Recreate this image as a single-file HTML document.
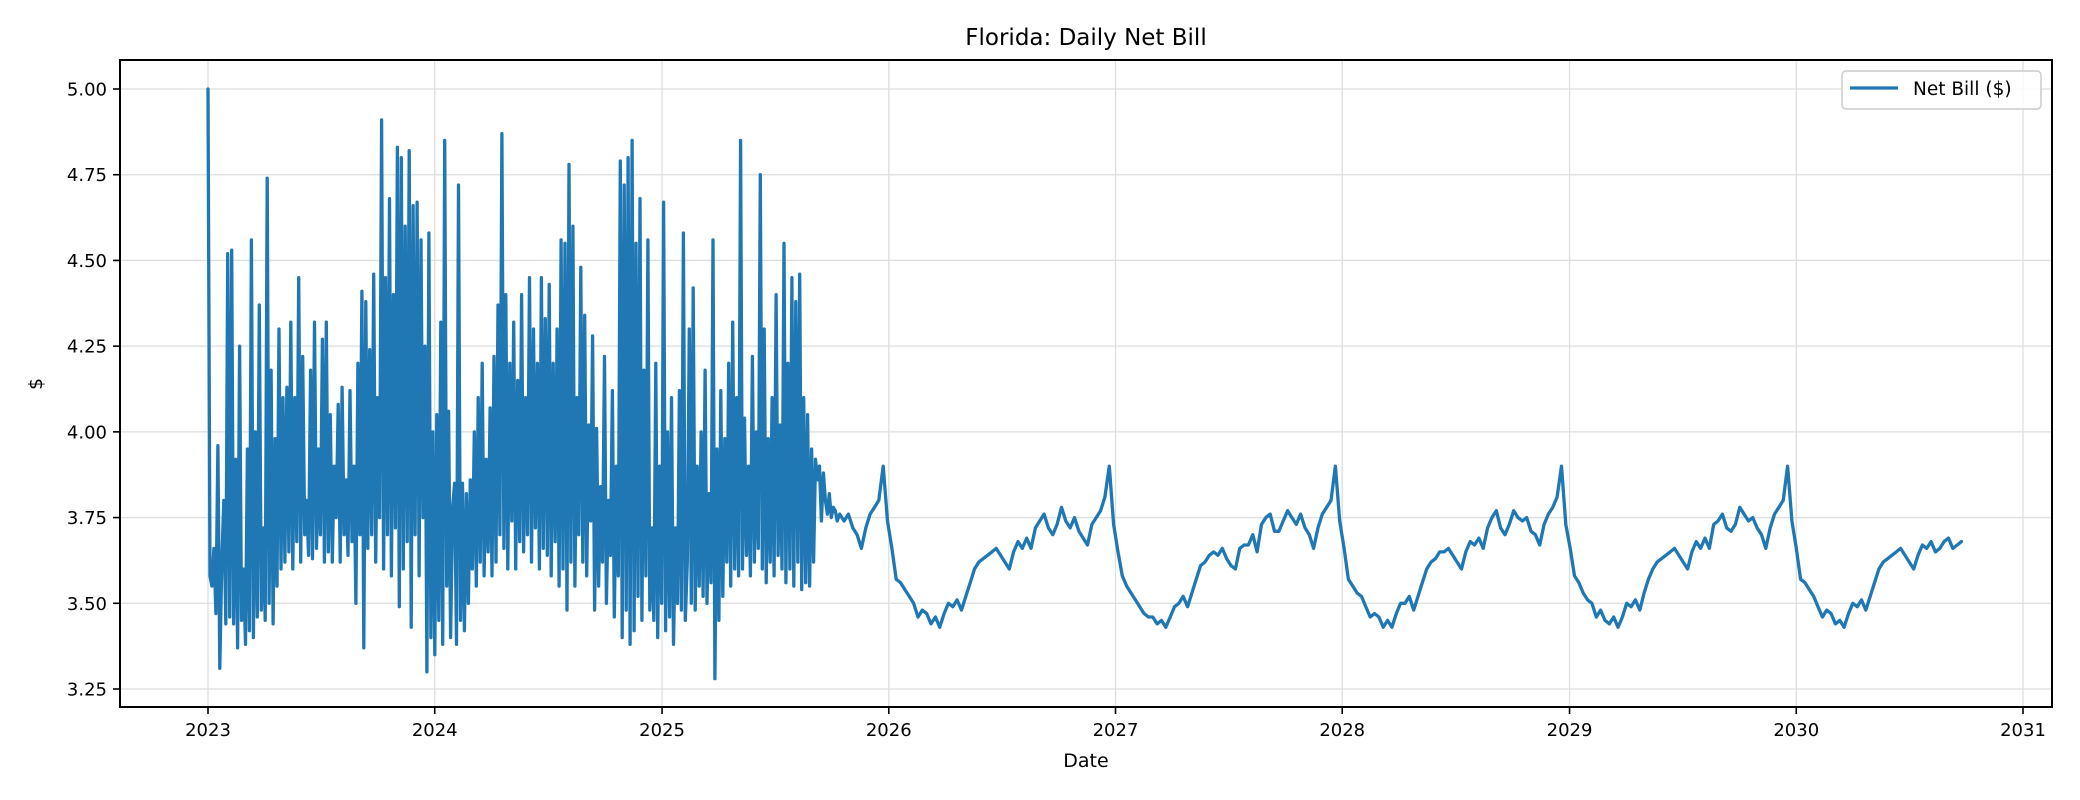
<!DOCTYPE html>
<html><head><meta charset="utf-8"><style>
html,body{margin:0;padding:0;background:#fff;}
svg{display:block;font-family:"DejaVu Sans","Liberation Sans",sans-serif;}
</style></head><body>
<svg id="chart" width="2080" height="800" viewBox="0 0 2080 800" xmlns="http://www.w3.org/2000/svg">
<rect x="0" y="0" width="2080" height="800" fill="#fff"/>
<g id="grid"></g>
<g id="series"></g>
<rect x="120" y="60" width="1932" height="647" fill="none" stroke="#000" stroke-width="2"/>
<g id="ticks"></g>
<text x="1086" y="45" text-anchor="middle" font-size="23" fill="#000">Florida: Daily Net Bill</text>
<text x="1086" y="767" text-anchor="middle" font-size="19" fill="#000">Date</text>
<text x="42" y="384" text-anchor="middle" font-size="19" fill="#000" transform="rotate(-90 42 384)">$</text>
<g>
<rect x="1842" y="71" width="199" height="38" rx="4" fill="#fff" fill-opacity="0.8" stroke="#ccc" stroke-width="1.5"/>
<line x1="1850" y1="88" x2="1898" y2="88" stroke="#1f77b4" stroke-width="3.3"/>
<text x="1913" y="95" font-size="18.5" fill="#000">Net Bill ($)</text>
</g>
</svg>
<script>
const yTicks = [3.25, 3.50, 3.75, 4.00, 4.25, 4.50, 4.75, 5.00];
const xTickYears = [2023, 2024, 2025, 2026, 2027, 2028, 2029, 2030, 2031];
const noisyStart = "2023-01-01";
const noisyEnd = "2025-10-10";
const noisyValues = [
5.00,3.58,3.55,3.66,3.47,3.96,3.31,3.62,3.80,3.44,4.52,3.46,4.53,3.44,3.92,3.37,4.25,3.45,3.60,3.38,
3.95,3.42,4.56,3.40,4.00,3.46,4.37,3.48,3.72,3.45,4.74,3.50,4.18,3.44,3.98,3.55,4.30,3.60,4.10,3.62,
4.13,3.65,4.32,3.60,4.10,3.68,4.45,3.62,4.22,3.70,3.80,3.64,4.18,3.63,4.32,3.66,3.95,3.70,4.27,3.62,
4.32,3.65,4.05,3.62,3.90,3.75,4.08,3.62,4.13,3.70,3.86,3.64,4.12,3.68,3.90,3.50,4.20,3.70,4.41,3.37,
4.38,3.66,4.24,3.70,4.46,3.62,4.10,3.75,4.91,3.60,4.45,3.70,4.68,3.58,4.40,3.72,4.83,3.49,4.80,3.60,
4.60,3.68,4.82,3.43,4.66,3.70,4.67,3.58,4.56,3.75,4.25,3.30,4.58,3.40,4.00,3.35,4.05,3.45,4.32,3.38,4.85,
3.55,4.06,3.40,3.78,3.85,3.38,4.72,3.45,3.85,3.42,3.82,3.50,3.86,3.60,4.00,3.55,4.10,3.62,4.20,3.58,
3.92,3.65,4.07,3.58,4.22,3.62,4.37,3.70,4.87,3.66,4.40,3.60,4.20,3.74,4.32,3.60,4.15,3.68,4.40,3.65,
4.10,3.70,4.45,3.62,4.30,3.72,4.20,3.60,4.45,3.66,4.33,3.64,4.43,3.58,4.20,3.68,4.30,3.55,4.56,3.60,
4.55,3.48,4.78,3.62,4.60,3.55,4.10,3.70,4.48,3.62,4.34,3.58,4.02,3.74,4.28,3.48,4.01,3.55,3.84,3.62,
4.22,3.50,3.80,3.64,4.12,3.46,3.90,3.58,4.79,3.40,4.72,3.48,4.80,3.38,4.85,3.42,4.55,3.52,4.68,3.45,
4.18,3.58,4.56,3.48,3.72,3.45,4.20,3.40,3.90,3.50,4.67,3.42,4.00,3.46,4.10,3.38,3.72,3.50,4.12,3.48,4.58,3.45,
3.62,4.30,3.50,4.42,3.48,3.90,3.55,4.00,3.52,4.18,3.50,3.82,3.56,4.56,3.28,3.95,3.45,4.12,3.52,3.98,
3.62,4.20,3.55,4.32,3.60,4.10,3.58,4.85,3.60,4.04,3.64,3.90,3.58,4.22,3.62,4.00,3.66,4.75,3.60,4.30,
3.56,3.98,3.62,4.10,3.58,4.40,3.64,4.02,3.60,4.55,3.56,4.20,3.60,4.45,3.55,4.38,3.62,4.46,3.54,4.10,
3.56,4.05,3.55,3.95,3.62,3.92,3.86,3.90,3.74,3.88,3.80,3.76,3.82,3.75,3.78,3.77,3.74
];
const smoothStart = "2025-10-14";
const smoothStepDays = 7;
const smoothValues = [
3.76,3.74,3.76,3.72,3.70,3.66,3.72,3.76,3.78,3.80,3.90,3.74,3.66,3.57,3.56,3.54,3.52,3.50,3.46,3.48,3.47,3.44,3.46,3.43,3.47,3.50,3.49,3.51,3.48,3.52,3.56,3.60,3.62,3.63,3.64,3.65,3.66,3.64,3.62,3.60,3.65,3.68,3.66,3.69,3.66,3.72,3.74,3.76,3.72,3.70,3.73,3.78,
3.74,3.72,3.75,3.71,3.69,3.67,3.73,3.75,3.77,3.81,3.90,3.73,3.65,3.58,3.55,3.53,3.51,3.49,3.47,3.46,3.46,3.44,3.45,3.43,3.46,3.49,3.50,3.52,3.49,3.53,3.57,3.61,3.62,3.64,3.65,3.64,3.66,3.63,3.61,3.60,3.66,3.67,3.67,3.70,3.65,3.73,3.75,3.76,3.71,3.71,3.74,3.77,
3.75,3.73,3.76,3.72,3.70,3.66,3.72,3.76,3.78,3.80,3.90,3.74,3.66,3.57,3.55,3.53,3.52,3.49,3.46,3.47,3.46,3.43,3.45,3.43,3.47,3.50,3.50,3.52,3.48,3.52,3.56,3.60,3.62,3.63,3.65,3.65,3.66,3.64,3.62,3.60,3.65,3.68,3.67,3.69,3.66,3.72,3.75,3.77,3.72,3.70,3.73,3.77,
3.75,3.74,3.75,3.71,3.70,3.67,3.73,3.76,3.78,3.81,3.90,3.73,3.66,3.58,3.56,3.53,3.51,3.50,3.46,3.48,3.45,3.44,3.46,3.43,3.46,3.50,3.49,3.51,3.48,3.53,3.57,3.60,3.62,3.63,3.64,3.65,3.66,3.64,3.62,3.60,3.65,3.68,3.66,3.69,3.66,3.73,3.74,3.76,3.72,3.71,3.73,3.78,
3.76,3.74,3.75,3.72,3.70,3.66,3.72,3.76,3.78,3.80,3.90,3.74,3.66,3.57,3.56,3.54,3.52,3.49,3.46,3.48,3.47,3.44,3.45,3.43,3.47,3.50,3.49,3.51,3.48,3.52,3.56,3.60,3.62,3.63,3.64,3.65,3.66,3.64,3.62,3.60,3.64,3.67,3.66,3.68,3.65,3.66,3.68,3.69,3.66,3.67,3.68
];

const NS = "http://www.w3.org/2000/svg";
const plot = {left:120, right:2052, top:60, bottom:707};
const t2023 = Date.UTC(2023,0,1), t2031 = Date.UTC(2031,0,1);
function xScale(t){ return 208 + (t - t2023) / (t2031 - t2023) * (2023 - 208); }
function yScale(v){ return 689 - (v - 3.25) / (5.00 - 3.25) * (689 - 89); }
function mk(tag, attrs, parent){
  const el = document.createElementNS(NS, tag);
  for (const k in attrs) el.setAttribute(k, attrs[k]);
  parent.appendChild(el);
  return el;
}
const grid = document.getElementById('grid');
const ticks = document.getElementById('ticks');
const series = document.getElementById('series');

yTicks.forEach(v => {
  const y = yScale(v);
  const gl = mk('line', {x1:plot.left, x2:plot.right, y1:y, y2:y, stroke:'#dedede', 'stroke-width':1.3}, grid);
  
  
  const tk = mk('line', {x1:plot.left-7, x2:plot.left, y1:y, y2:y, stroke:'#000', 'stroke-width':1.6}, ticks);
  
  
  const tl = mk('text', {x:plot.left-13, y:y+6.5, 'text-anchor':'end', 'font-size':18, fill:'#000'}, ticks);
  tl.textContent = v.toFixed(2);
  
  
});
xTickYears.forEach(yr => {
  const x = xScale(Date.UTC(yr,0,1));
  const gl = mk('line', {x1:x, x2:x, y1:plot.top, y2:plot.bottom, stroke:'#dedede', 'stroke-width':1.3}, grid);
  
  
  const tk = mk('line', {x1:x, x2:x, y1:plot.bottom, y2:plot.bottom+7, stroke:'#000', 'stroke-width':1.6}, ticks);
  
  
  const tl = mk('text', {x:x, y:plot.bottom+29, 'text-anchor':'middle', 'font-size':18, fill:'#000'}, ticks);
  tl.textContent = String(yr);
  
  
});

const pts = [];
const ns0 = Date.parse(noisyStart), ns1 = Date.parse(noisyEnd);
noisyValues.forEach((v,i) => {
  const t = ns0 + (ns1 - ns0) * i / (noisyValues.length - 1);
  pts.push([xScale(t), yScale(v)]);
});
const ss0 = Date.parse(smoothStart);
smoothValues.forEach((v,i) => {
  const t = ss0 + i * smoothStepDays * 86400000;
  pts.push([xScale(t), yScale(v)]);
});
const path = mk('path', {d: 'M' + pts.map(p => p[0].toFixed(1) + ',' + p[1].toFixed(1)).join('L'), fill:'none', stroke:'#1f77b4', 'stroke-width':3.3, 'stroke-linejoin':'round', 'stroke-linecap':'round'}, series);


</script>
</body></html>
